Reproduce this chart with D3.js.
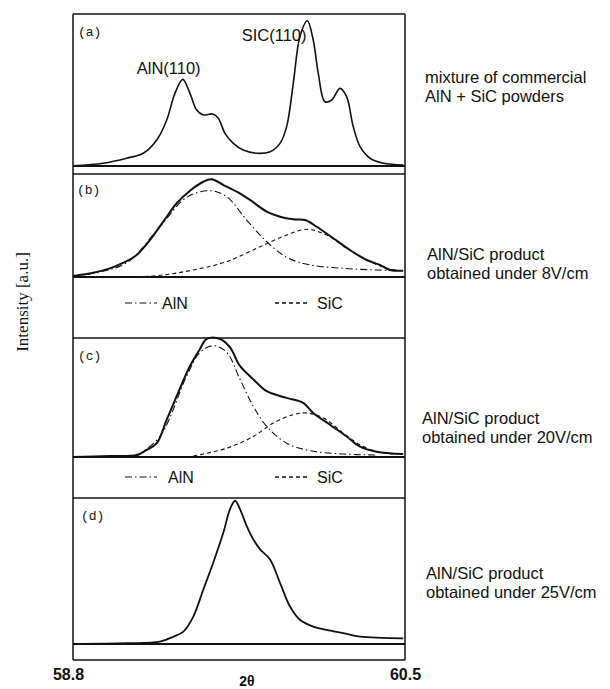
<!DOCTYPE html>
<html>
<head>
<meta charset="utf-8">
<script src="https://cdn.jsdelivr.net/npm/d3@7"></script>
<style>
  html, body { margin: 0; padding: 0; background: #fff; }
  svg { display: block; }
</style>
</head>
<body>
<svg id="chart" width="610" height="689"></svg>
<script>
// ---------------- DATA ----------------
const xDomain = [58.8, 60.5];
const xTicks = [58.8, 60.5];
const xTitle = "2θ";
const yTitle = "Intensity [a.u.]";

// (a) mixture of commercial powders
const aX = [58.80,58.955,59.075,59.16,59.229,59.28,59.322,59.362,59.399,59.433,59.467,59.515,59.544,59.578,59.621,59.672,59.741,59.809,59.86,59.894,59.928,59.962,60.0,60.03,60.056,60.09,60.125,60.167,60.201,60.235,60.27,60.321,60.389,60.491];
const aY = [0.2,1.8,5.1,8.4,17.1,30.3,47.8,57.0,47.8,36.8,33.6,34.2,31.4,21.5,14.9,10.5,8.4,9.4,14.9,25.9,54.4,85.1,95.6,82.9,61.0,42.3,43.4,51.1,45.6,25.9,12.7,5.1,1.8,0.7];

// (b) 8 V/cm
const bX = [58.80,58.904,58.989,59.058,59.126,59.194,59.262,59.331,59.399,59.467,59.51,59.57,59.638,59.706,59.792,59.86,59.928,59.988,60.048,60.133,60.218,60.304,60.372,60.423,60.491];
const bTotal = [1.0,4.2,8.4,13.9,21.4,35.9,53.7,71.6,83.8,92.5,94.9,89.3,82.8,74.8,63.4,58.5,56.0,55.3,48.8,37.6,26.2,16.5,11.7,6.8,6.1];
const bAlnX = [58.80,58.904,59.075,59.245,59.382,59.501,59.587,59.689,59.792,59.894,60.014,60.184,60.355,60.45];
const bAln = [1.0,3.6,13.9,48.8,77.4,83.8,78.0,55.3,34.3,19.1,11.7,8.4,6.8,6.3];
const bSicX = [58.95,59.211,59.415,59.587,59.758,59.894,59.997,60.099,60.201,60.321,60.406,60.46];
const bSic = [0.5,1.0,6.8,14.9,29.4,40.8,46.3,40.8,27.9,14.9,8.4,6.5];

// (c) 20 V/cm
const cX = [58.80,58.989,59.126,59.177,59.229,59.28,59.331,59.399,59.45,59.485,59.553,59.604,59.655,59.723,59.792,59.894,59.979,60.03,60.116,60.201,60.27,60.355,60.491];
const cTotal = [0,0.8,1.7,5.9,11.6,31.4,51.1,76.5,90.7,99.2,99.2,92.1,76.5,65.3,55.3,49.7,45.5,37.0,27.1,17.2,8.7,4.5,2.5];
const cAlnX = [59.126,59.245,59.382,59.45,59.518,59.587,59.655,59.723,59.792,59.894,60.014,60.184,60.355];
const cAln = [0.8,17.2,68.0,87.9,93.5,87.9,65.3,42.6,25.7,11.6,5.3,2.5,1.7];
const cSicX = [59.416,59.587,59.723,59.826,59.928,59.997,60.082,60.184,60.27,60.355,60.44];
const cSic = [0.8,7.4,17.2,28.6,35.6,37.0,32.8,20.1,10.2,4.5,2.5];

// (d) 25 V/cm
const dX = [58.80,59.075,59.245,59.314,59.365,59.416,59.467,59.518,59.57,59.604,59.63,59.655,59.689,59.723,59.758,59.809,59.86,59.911,59.962,60.03,60.099,60.184,60.27,60.491];
const dY = [0,0.5,1.6,5.0,8.5,18.8,37.2,55.7,76.3,92.4,98.1,92.4,80.9,71.7,64.8,57.9,41.9,25.7,16.6,11.9,9.7,7.4,5.0,3.9];

const panelTags = ["(a)", "(b)", "(c)", "(d)"];
const peakLabels = ["AlN(110)", "SIC(110)"];
const peakLabelX = [59.29, 59.83];
const legendNames = ["AlN", "SiC"];
const sideLabels = [
  ["mixture of commercial", "AlN + SiC powders"],
  ["AlN/SiC product", "obtained under 8V/cm"],
  ["AlN/SiC product", "obtained under 20V/cm"],
  ["AlN/SiC product", "obtained under 25V/cm"]
];

// ---------------- LAYOUT ----------------
const svg = d3.select("#chart");
const L = 73, R = 405;
const x = d3.scaleLinear().domain(xDomain).range([L, R]);

const panels = [
  {top: 14,  base: 166, bottom: 166},
  {top: 174, base: 277, bottom: 338},
  {top: 338, base: 457, bottom: 498},
  {top: 498, base: 644, bottom: 660}
];
panels.forEach(p => { p.y = d3.scaleLinear().domain([0, 100]).range([p.base, p.top]); });

const sans = "'Liberation Sans', Arial, Helvetica, sans-serif";
const ink = "#111";

const lineGen = (xs, ys, y) => d3.line()
  .x((d, i) => x(xs[i]))
  .y(d => y(d))
  .curve(d3.curveCatmullRom.alpha(0.5))(ys);

const DASHDOT = "7,3,1.5,3";
const DASHED = "4,3";

// frame
const g = svg.append("g");
g.append("line").attr("x1", L).attr("x2", L).attr("y1", 14).attr("y2", 660)
  .attr("stroke", ink).attr("stroke-width", 1.5);
g.append("line").attr("x1", R).attr("x2", R).attr("y1", 14).attr("y2", 660)
  .attr("stroke", ink).attr("stroke-width", 1.5);
[[14,1.5],[174,1.5],[338,1.5],[498,1.5],[660,1.5],[166,2.2],[277,2.2],[457,2.2],[644,2.2]].forEach(([yy, w]) => {
  g.append("line").attr("x1", L).attr("x2", R).attr("y1", yy).attr("y2", yy)
    .attr("stroke", ink).attr("stroke-width", w);
});

// curves
const curves = [
  {p: 0, xs: aX, ys: aY, dash: null, w: 1.6},
  {p: 1, xs: bAlnX, ys: bAln, dash: DASHDOT, w: 1.1},
  {p: 1, xs: bSicX, ys: bSic, dash: DASHED, w: 1.1},
  {p: 1, xs: bX, ys: bTotal, dash: null, w: 2.0},
  {p: 2, xs: cAlnX, ys: cAln, dash: DASHDOT, w: 1.1},
  {p: 2, xs: cSicX, ys: cSic, dash: DASHED, w: 1.1},
  {p: 2, xs: cX, ys: cTotal, dash: null, w: 2.0},
  {p: 3, xs: dX, ys: dY, dash: null, w: 1.8}
];
curves.forEach(c => {
  g.append("path")
    .attr("d", lineGen(c.xs, c.ys, panels[c.p].y))
    .attr("fill", "none")
    .attr("stroke", ink)
    .attr("stroke-width", c.w)
    .attr("stroke-linejoin", "round")
    .attr("stroke-dasharray", c.dash);
});

// panel tags
const tagPos = [[78, 36], [77, 194], [78, 360], [81, 520]];
panelTags.forEach((t, i) => {
  g.append("text").attr("x", tagPos[i][0]).attr("y", tagPos[i][1])
    .attr("font-family", "'Liberation Mono', 'DejaVu Sans Mono', monospace")
    .attr("font-size", 13).attr("fill", ink).text(t);
});

// peak labels in (a)
const peakY = [74, 41];
peakLabels.forEach((t, i) => {
  g.append("text").attr("x", x(peakLabelX[i])).attr("y", peakY[i])
    .attr("text-anchor", "middle")
    .attr("font-family", sans).attr("font-size", 16.5).attr("fill", ink).text(t);
});

// legends in (b) and (c)
const legendRows = [{y: 303, p: 1}, {y: 477, p: 2}];
legendRows.forEach(r => {
  g.append("line").attr("x1", 125).attr("x2", 157).attr("y1", r.y).attr("y2", r.y)
    .attr("stroke", ink).attr("stroke-width", 1.1).attr("stroke-dasharray", DASHDOT);
  g.append("text").attr("x", r.p === 1 ? 162 : 168).attr("y", r.y + 6)
    .attr("font-family", sans).attr("font-size", 16).attr("fill", ink).text(legendNames[0]);
  g.append("line").attr("x1", 275).attr("x2", 307).attr("y1", r.y).attr("y2", r.y)
    .attr("stroke", ink).attr("stroke-width", 1.3).attr("stroke-dasharray", DASHED);
  g.append("text").attr("x", 317).attr("y", r.y + 6)
    .attr("font-family", sans).attr("font-size", 16).attr("fill", ink).text(legendNames[1]);
});

// side labels
const sidePos = [[425, 83], [427, 260], [422, 424], [426, 579]];
sideLabels.forEach((lines, i) => {
  lines.forEach((t, j) => {
    g.append("text").attr("x", sidePos[i][0]).attr("y", sidePos[i][1] + j * 19)
      .attr("font-family", sans).attr("font-size", 16.5).attr("fill", ink).text(t);
  });
});

// x axis
const xAxis = d3.axisBottom(x).tickValues(xTicks).tickSize(0).tickPadding(0)
  .tickFormat(d3.format(".1f"));
const ax = svg.append("g").attr("transform", "translate(0,665)").call(xAxis);
ax.select(".domain").remove();
ax.selectAll("text")
  .attr("font-family", sans).attr("font-size", 16).attr("font-weight", "bold")
  .attr("fill", ink).attr("dy", "0.95em");
ax.selectAll(".tick").filter(d => d === xDomain[0]).select("text").attr("dx", -5);

svg.append("text").attr("x", 247).attr("y", 686).attr("text-anchor", "middle")
  .attr("font-family", sans).attr("font-size", 14).attr("font-weight", "bold")
  .attr("fill", ink).text(xTitle);

// y title
svg.append("text")
  .attr("transform", "translate(28,302) rotate(-90)")
  .attr("text-anchor", "middle")
  .attr("font-family", "'Liberation Serif', 'Times New Roman', serif")
  .attr("font-size", 17).attr("fill", ink).text(yTitle);
</script>
</body>
</html>
